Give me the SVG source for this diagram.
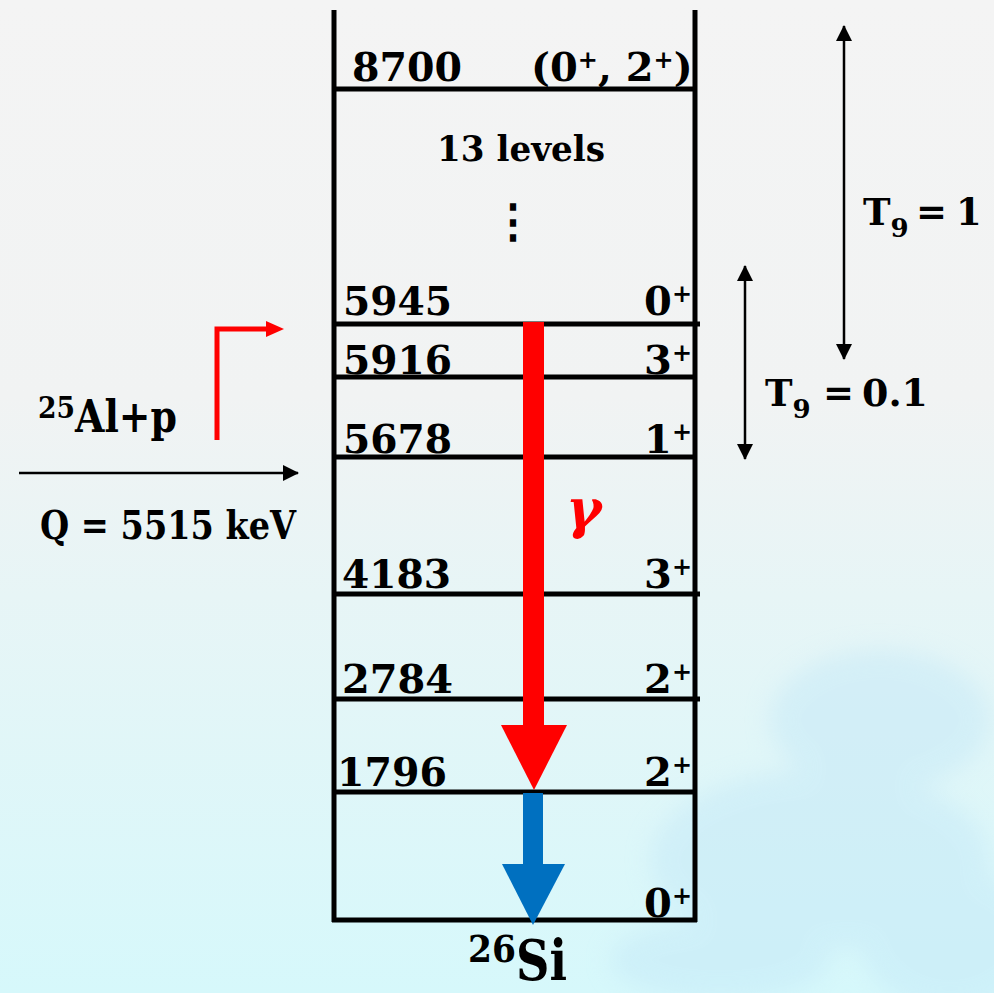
<svg xmlns="http://www.w3.org/2000/svg" width="994" height="993" viewBox="0 0 994 993">
<style>
  .t { font-family: "DejaVu Serif", "Liberation Serif", serif; font-weight: bold; fill: #000; }
  .lv { font-size: 40px; }
  .sup { font-size: 24px; }
  .lvl { stroke: #000; stroke-width: 5; fill: none; }
  .thin { stroke: #000; stroke-width: 2.5; fill: none; }
</style>
<defs>
  <linearGradient id="bg" x1="0" y1="0" x2="0" y2="1">
    <stop offset="0" stop-color="#f4f4f4"/>
    <stop offset="0.4" stop-color="#f1f3f3"/>
    <stop offset="0.6" stop-color="#e7f5f6"/>
    <stop offset="1" stop-color="#d6f8fb"/>
  </linearGradient>
  <filter id="blur" x="-20%" y="-20%" width="140%" height="140%">
    <feGaussianBlur stdDeviation="12"/>
  </filter>
  <marker id="ah" viewBox="0 0 16 16" refX="15" refY="8" markerWidth="16" markerHeight="16" markerUnits="userSpaceOnUse" orient="auto-start-reverse">
    <path d="M0,0 L16,8 L0,16 Z" fill="#000"/>
  </marker>
</defs>

<g id="background">
  <rect x="0" y="0" width="994" height="993" fill="url(#bg)"/>
  <g filter="url(#blur)" fill="#c4e8f7" opacity="0.5">
    <ellipse cx="880" cy="720" rx="110" ry="70"/>
    <ellipse cx="820" cy="860" rx="170" ry="90"/>
    <ellipse cx="950" cy="940" rx="90" ry="70"/>
    <ellipse cx="720" cy="960" rx="110" ry="40"/>
  </g>
</g>

<g id="scheme">
  <line class="lvl" x1="334" y1="10" x2="334" y2="922"/>
  <line class="lvl" x1="695" y1="10" x2="695" y2="922"/>
</g>

<g id="level-8700">
  <line class="lvl" x1="332" y1="89" x2="697" y2="89"/>
  <text class="t lv" x="352" y="81" textLength="110" lengthAdjust="spacingAndGlyphs">8700</text>
  <text class="t lv" x="531" y="81">(0<tspan class="sup" dy="-13">+</tspan><tspan dy="13">, 2</tspan><tspan class="sup" dy="-13">+</tspan><tspan dy="13">)</tspan></text>
</g>

<g id="levels-13">
  <text class="t" x="521" y="161" font-size="36" text-anchor="middle" textLength="168" lengthAdjust="spacingAndGlyphs">13 levels</text>
  <text class="t" x="513" y="237" font-size="46" text-anchor="middle">⋮</text>
</g>

<g id="level-5945">
  <line class="lvl" x1="336" y1="324" x2="700" y2="324"/>
  <text class="t lv" x="343" y="315" textLength="109" lengthAdjust="spacingAndGlyphs">5945</text>
  <text class="t lv" x="692" y="315" text-anchor="end">0<tspan class="sup" dy="-13">+</tspan></text>
</g>

<g id="level-5916">
  <line class="lvl" x1="335" y1="377" x2="697" y2="377"/>
  <text class="t lv" x="343" y="374" textLength="109" lengthAdjust="spacingAndGlyphs">5916</text>
  <text class="t lv" x="692" y="374" text-anchor="end">3<tspan class="sup" dy="-13">+</tspan></text>
</g>

<g id="level-5678">
  <line class="lvl" x1="335" y1="457" x2="697" y2="457"/>
  <text class="t lv" x="343" y="453" textLength="109" lengthAdjust="spacingAndGlyphs">5678</text>
  <text class="t lv" x="692" y="453" text-anchor="end">1<tspan class="sup" dy="-13">+</tspan></text>
</g>

<g id="level-4183">
  <line class="lvl" x1="336" y1="594" x2="700" y2="594"/>
  <text class="t lv" x="342" y="588" textLength="109" lengthAdjust="spacingAndGlyphs">4183</text>
  <text class="t lv" x="692" y="588" text-anchor="end">3<tspan class="sup" dy="-13">+</tspan></text>
</g>

<g id="level-2784">
  <line class="lvl" x1="336" y1="699" x2="700" y2="699"/>
  <text class="t lv" x="342" y="693" textLength="111" lengthAdjust="spacingAndGlyphs">2784</text>
  <text class="t lv" x="692" y="693" text-anchor="end">2<tspan class="sup" dy="-13">+</tspan></text>
</g>

<g id="level-1796">
  <line class="lvl" x1="334" y1="792" x2="697" y2="792"/>
  <text class="t lv" x="337" y="786" textLength="110" lengthAdjust="spacingAndGlyphs">1796</text>
  <text class="t lv" x="692" y="786" text-anchor="end">2<tspan class="sup" dy="-13">+</tspan></text>
</g>

<g id="level-0">
  <line class="lvl" x1="332" y1="920" x2="697" y2="920"/>
  <text class="t lv" x="692" y="917" text-anchor="end">0<tspan class="sup" dy="-13">+</tspan></text>
</g>

<g id="nucleus-26Si">
  <text class="t" x="468" y="962"><tspan font-size="38" textLength="48" lengthAdjust="spacingAndGlyphs">26</tspan><tspan font-size="56" dy="18" textLength="51" lengthAdjust="spacingAndGlyphs">Si</tspan></text>
</g>

<g id="reaction-25Al-p">
  <text class="t" x="38" y="432"><tspan font-size="29" dy="-14" textLength="37" lengthAdjust="spacingAndGlyphs">25</tspan><tspan font-size="45" dy="14" textLength="102" lengthAdjust="spacingAndGlyphs">Al+p</tspan></text>
  <text class="t" x="40" y="539" font-size="40" textLength="256" lengthAdjust="spacingAndGlyphs">Q = 5515 keV</text>
</g>

<g id="label-T9-1">
  <text class="t" x="863" y="225" font-size="37">T<tspan font-size="26" dy="12">9</tspan><tspan x="916" dy="-12">=</tspan><tspan x="956">1</tspan></text>
</g>

<g id="label-T9-0.1">
  <text class="t" x="765" y="406" font-size="37">T<tspan font-size="26" dy="12">9</tspan><tspan x="823" dy="-12">=</tspan><tspan x="862" textLength="66" lengthAdjust="spacingAndGlyphs">0.1</tspan></text>
</g>

<g id="label-gamma">
  <text x="566" y="528" font-family="DejaVu Serif, Liberation Serif, serif" font-weight="bold" font-style="italic" font-size="54" fill="#ff0000">γ</text>
</g>

<g id="connectors">
  <!-- gamma transition -->
  <rect x="523" y="322" width="21" height="404" fill="#ff0000"/>
  <polygon points="501,725 567,725 534,790" fill="#ff0000"/>
  <!-- ground-state transition -->
  <rect x="523" y="793" width="20" height="72" fill="#0070c0"/>
  <polygon points="502,864 565,864 533,925" fill="#0070c0"/>
  <!-- resonance entrance (red bent arrow) -->
  <path d="M217,440 V329 H268" stroke="#ff0000" stroke-width="5" fill="none"/>
  <polygon points="266,321 284,329 266,337" fill="#ff0000"/>
  <!-- Q-value arrow -->
  <line class="thin" x1="19" y1="473" x2="298" y2="473" marker-end="url(#ah)"/>
  <!-- temperature windows -->
  <line class="thin" x1="844" y1="26" x2="844" y2="359" marker-start="url(#ah)" marker-end="url(#ah)"/>
  <line class="thin" x1="745" y1="266" x2="745" y2="459" marker-start="url(#ah)" marker-end="url(#ah)"/>
</g>
</svg>
